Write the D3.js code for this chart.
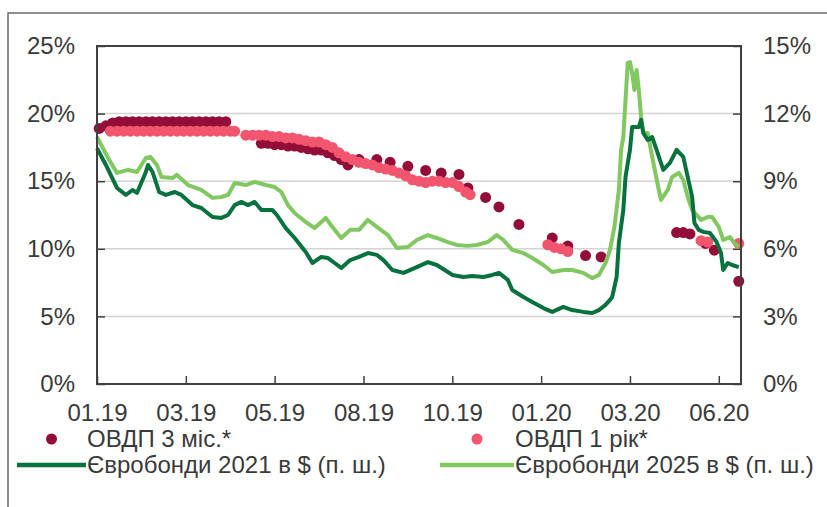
<!DOCTYPE html>
<html><head><meta charset="utf-8">
<script src="https://cdn.jsdelivr.net/npm/d3@7"></script>
<style>
html,body{margin:0;padding:0;background:#fff;}
svg text{font-family:"Liberation Sans",Arial,sans-serif;fill:#3a3a3a;}
</style></head>
<body><svg id="c" width="827" height="507"></svg>
<script>
// ---- data ----
const xTickLabels = ["01.19","03.19","05.19","08.19","10.19","01.20","03.20","06.20"];
const xTickIndex  = [0,40,80,120,160,200,240,280];
const leftTicks   = [0,5,10,15,20,25];
const rightTicks  = [0,3,6,9,12,15];

// ОВДП 3 міс. (left axis, %) : [period index, value]
const ovdp3m = [
 [1,18.9],[4,19.1],[7,19.3],[10,19.4],[13,19.4],[16,19.4],[19,19.4],[22,19.4],[25,19.4],[28,19.4],
 [31,19.4],[34,19.4],[37,19.4],[40,19.4],[43,19.4],[46,19.4],[49,19.4],[52,19.4],[55,19.4],[58,19.4],
 [74,17.8],[77,17.8],[80,17.7],[83,17.7],[86,17.6],[89,17.6],[92,17.5],[95,17.4],[98,17.3],[101,17.3],
 [104,17.1],[107,16.9],[110,16.6],[113,16.2],
 [118,16.6],[126,16.6],[132,16.4],[140,16.1],[148,15.8],[155,15.6],[163,15.5],
 [167,14.5],[175,13.8],[181,13.1],[190,11.8],[205,10.8],[212,10.2],[220,9.5],[227,9.4],
 [261,11.2],[264,11.2],[267,11.1],[274,10.4],[278,9.9],[289,7.6]
];
// ОВДП 1 рік (left axis, %)
const ovdp1y = [
 [6,18.7],[9,18.7],[12,18.7],[15,18.7],[18,18.7],[21,18.7],[24,18.7],[27,18.7],[30,18.7],[33,18.7],
 [36,18.7],[39,18.7],[42,18.7],[45,18.7],[48,18.7],[51,18.7],[54,18.7],[57,18.7],[60,18.7],[62,18.7],
 [67,18.4],[70,18.4],[73,18.4],[76,18.4],[79,18.3],[82,18.3],[85,18.2],[88,18.2],[91,18.1],[94,18.0],
 [97,17.9],[100,17.9],[103,17.7],[106,17.5],[109,17.1],[112,16.8],[115,16.6],[118,16.4],[121,16.3],
 [124,16.2],[127,16.0],[130,15.9],[133,15.8],[136,15.6],[139,15.4],[142,15.1],[145,15.0],[148,14.9],
 [151,15.0],[154,15.0],[157,14.9],[160,14.9],[163,14.6],[166,14.2],[168,14.0],
 [203,10.3],[206,10.1],[209,10.0],[212,9.8],
 [272,10.6],[275,10.5],[289,10.4]
];
// Єврооблігації 2021 в $ (right axis, %)
const eb2021 = [
 [0,10.47],[4,9.72],[9,8.70],[13,8.39],[16,8.61],[18,8.48],[22,9.41],[23,9.72],[25,9.41],[28,8.52],
 [31,8.39],[35,8.52],[38,8.39],[43,7.94],[47,7.81],[52,7.41],[56,7.37],[59,7.50],[62,7.94],[65,8.08],
 [68,7.94],[71,8.08],[74,7.72],[79,7.72],[81,7.50],[85,6.92],[89,6.48],[94,5.86],[97,5.37],[101,5.64],
 [104,5.59],[107,5.37],[110,5.15],[114,5.50],[118,5.64],[122,5.81],[126,5.73],[129,5.50],[133,5.06],
 [138,4.93],[144,5.19],[149,5.41],[153,5.28],[158,4.97],[160,4.84],[165,4.75],[169,4.79],[174,4.75],
 [178,4.84],[181,4.93],[185,4.62],[187,4.17],[192,3.86],[196,3.64],[201,3.37],[205,3.20],[210,3.42],
 [214,3.28],[219,3.20],[223,3.15],[226,3.28],[229,3.51],[231,3.73],[232,3.86],[234,4.75],[235,6.26],
 [237,7.72],[238,9.19],[240,10.39],[241,11.41],[244,11.41],[245,11.72],[246,11.14],[248,10.83],
 [250,10.96],[252,10.39],[255,9.50],[258,9.81],[261,10.39],[264,10.08],[266,9.19],[268,8.30],[269,7.15],
 [271,6.84],[273,6.75],[276,6.70],[279,6.30],[281,5.81],[282,5.06],[284,5.37],[286,5.28],[289,5.19]
];
// Єврооблігації 2025 в $ (right axis, %)
const eb2025 = [
 [0,10.96],[5,10.03],[9,9.37],[14,9.50],[18,9.41],[22,10.03],[24,10.08],[27,9.72],[29,9.19],[34,9.14],
 [36,9.28],[41,8.83],[47,8.61],[52,8.26],[56,8.30],[59,8.39],[62,8.92],[67,8.83],[71,8.97],[76,8.83],
 [80,8.74],[83,8.52],[86,7.94],[89,7.59],[94,7.19],[98,6.92],[103,7.37],[106,6.97],[110,6.48],[114,6.84],
 [118,6.84],[122,7.28],[126,6.97],[131,6.61],[135,6.04],[140,6.08],[144,6.39],[149,6.61],[153,6.48],
 [158,6.30],[162,6.17],[167,6.13],[171,6.17],[176,6.30],[180,6.61],[183,6.39],[187,5.95],[192,5.81],
 [196,5.59],[201,5.28],[205,4.97],[210,5.06],[214,5.06],[219,4.93],[223,4.70],[226,4.84],[229,5.37],
 [231,5.95],[233,6.97],[235,8.61],[236,10.39],[237,10.96],[238,12.61],[239,14.25],[240,14.29],[241,13.80],
 [242,13.05],[243,13.94],[244,13.05],[245,11.85],[246,11.14],[248,11.14],[250,10.08],[253,8.61],[254,8.17],
 [257,8.61],[259,9.19],[262,9.37],[264,9.05],[266,8.30],[268,7.72],[272,7.28],[275,7.41],[277,7.41],
 [280,6.97],[282,6.39],[285,6.52],[287,6.26],[289,6.08]
];
const legendLabels = ["ОВДП 3 міс.*","ОВДП 1 рік*","Євробонди 2021 в $ (п. ш.)","Євробонди 2025 в $ (п. ш.)"];

// ---- styles ----
const C = {dark:"#930d38", pink:"#f2566e", dg:"#08723f", lg:"#82c860", axis:"#404040", grid:"#d4d4d4"};
const FS = 24;

const svg = d3.select("#c");
const L = 97, R = 741, T = 46, B = 384;
const x = d3.scaleLinear().domain([0,290]).range([L,R]);
const yL = d3.scaleLinear().domain([0,25]).range([B,T]);
const yR = d3.scaleLinear().domain([0,15]).range([B,T]);

// outer frame
svg.append("path").attr("d","M8,507V13H827").attr("fill","none").attr("stroke","#6a6a6a").attr("stroke-width",1.5);

// gridlines
svg.append("g").selectAll("line").data(leftTicks.filter(d=>d>0&&d<25)).join("line")
  .attr("x1",L).attr("x2",R).attr("y1",d=>yL(d)).attr("y2",d=>yL(d))
  .attr("stroke",C.grid).attr("stroke-width",1.5);

// axes
const fmt = d=>d+"%";
const gl = svg.append("g").attr("transform",`translate(${L},0)`)
  .call(d3.axisLeft(yL).tickValues(leftTicks).tickSize(-8).tickPadding(22).tickFormat(fmt));
const gr = svg.append("g").attr("transform",`translate(${R},0)`)
  .call(d3.axisRight(yR).tickValues(rightTicks).tickSize(-8).tickPadding(22).tickFormat(fmt));
const gb = svg.append("g").attr("transform",`translate(0,${B})`)
  .call(d3.axisBottom(x).tickValues(xTickIndex).tickSize(-8).tickPadding(20).tickFormat((d,i)=>xTickLabels[i]));
[gl,gr,gb].forEach(g=>{
  g.select(".domain").remove();
  g.selectAll(".tick line").attr("stroke",C.axis).attr("stroke-width",1.5);
  g.selectAll("text").attr("font-size",FS).attr("fill","#3a3a3a").attr("font-family","Liberation Sans, Arial, sans-serif");
});

// dots
svg.append("g").selectAll("circle").data(ovdp3m).join("circle")
  .attr("cx",d=>x(d[0])).attr("cy",d=>yL(d[1])).attr("r",5.5).attr("fill",C.dark);
svg.append("g").selectAll("circle").data(ovdp1y).join("circle")
  .attr("cx",d=>x(d[0])).attr("cy",d=>yL(d[1])).attr("r",5.5).attr("fill",C.pink);

// lines
const line = d3.line().x(d=>x(d[0])).y(d=>yR(d[1]));
svg.append("path").datum(eb2025).attr("d",line).attr("fill","none").attr("stroke",C.lg).attr("stroke-width",4).attr("stroke-linejoin","round");
svg.append("path").datum(eb2021).attr("d",line).attr("fill","none").attr("stroke",C.dg).attr("stroke-width",4).attr("stroke-linejoin","round");

// plot box
svg.append("rect").attr("x",L).attr("y",T).attr("width",R-L).attr("height",B-T)
  .attr("fill","none").attr("stroke",C.axis).attr("stroke-width",2);

// legend
const lg = svg.append("g").attr("font-size",FS);
const rows = [439, 465];
const cols = [[17,86],[440,514]];
[[C.dark,0],[C.pink,1]].forEach(([col,i])=>{
  lg.append("circle").attr("cx",(cols[i][0]+cols[i][1])/2).attr("cy",rows[0]).attr("r",5.5).attr("fill",col);
  lg.append("text").attr("x",cols[i][1]+1).attr("y",rows[0]).attr("dy","0.35em").text(legendLabels[i]);
});
[[C.dg,0],[C.lg,1]].forEach(([col,i])=>{
  lg.append("line").attr("x1",cols[i][0]).attr("x2",cols[i][1]).attr("y1",rows[1]).attr("y2",rows[1])
    .attr("stroke",col).attr("stroke-width",4.5);
  lg.append("text").attr("x",cols[i][1]+1).attr("y",rows[1]).attr("dy","0.35em").text(legendLabels[i+2]);
});
</script></body></html>
